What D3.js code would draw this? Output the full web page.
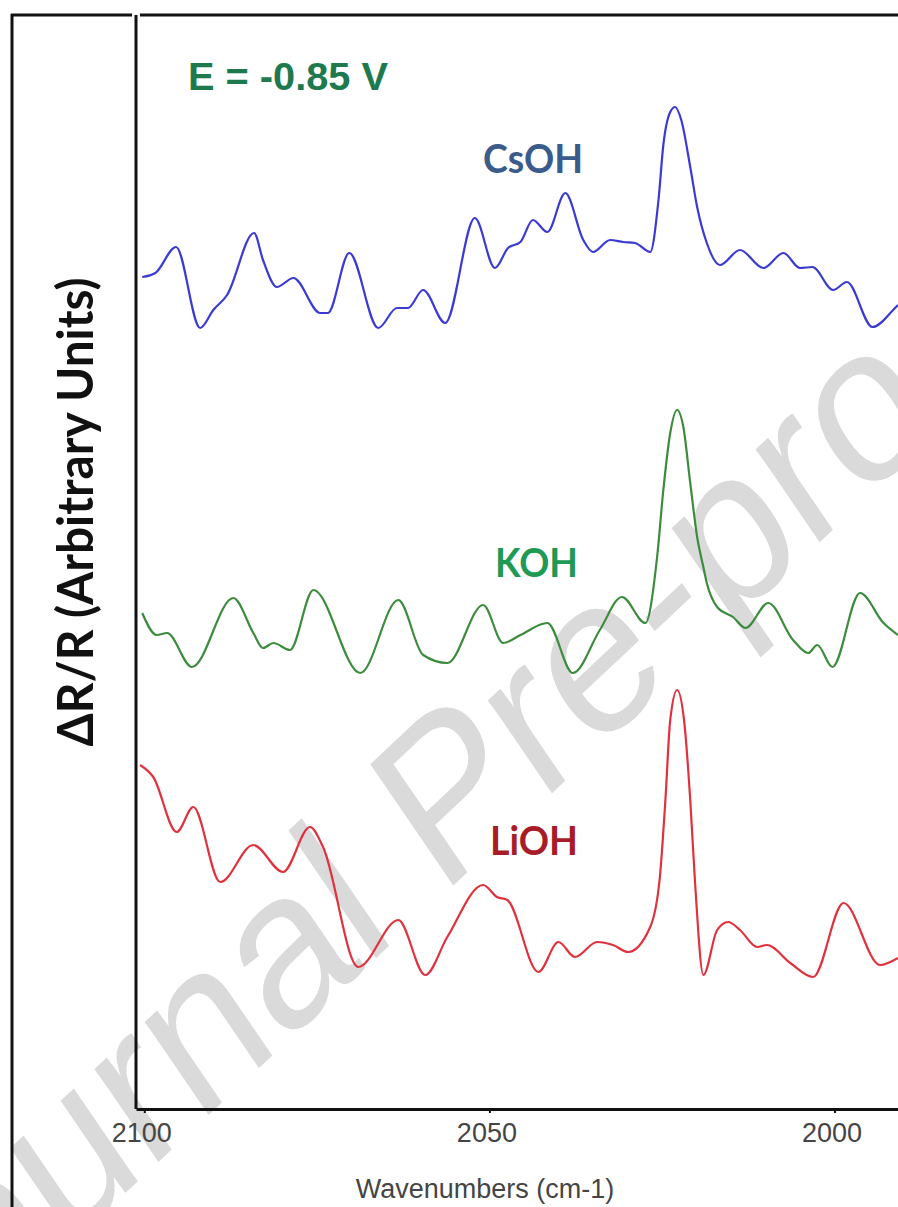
<!DOCTYPE html>
<html>
<head>
<meta charset="utf-8">
<script src="https://cdn.jsdelivr.net/npm/d3@7"></script>
<style>
  body { margin: 0; background: #ffffff; }
</style>
</head>
<body>
<div id="graph"></div>
<script>
// spectra: wavenumber (cm-1) and dR/R in arbitrary units (stacked)
var csohWave = [2100.3, 2098.4, 2095.4, 2091.9, 2090.0, 2088.0, 2084.1, 2082.8, 2080.8, 2078.4,
  2074.5, 2073.4, 2070.3, 2066.1, 2063.4, 2061.8, 2059.6, 2056.4, 2052.1, 2049.2,
  2047.3, 2045.5, 2043.7, 2041.6, 2039.0, 2036.4, 2035.0, 2032.5, 2030.6, 2028.9,
  2026.7, 2025.5, 2024.8, 2023.8, 2023.1, 2022.2, 2020.9, 2019.9, 2018.5, 2016.6,
  2013.7, 2010.3, 2007.4, 2005.0, 2003.2, 2000.2, 1998.2, 1994.5, 1991.5, 1990.8];
var csohValue = [8.32, 8.36, 8.62, 7.81, 7.99, 8.14, 8.76, 8.49, 8.22, 8.31,
  7.96, 7.96, 8.56, 7.81, 8.01, 8.01, 8.19, 7.86, 8.91, 8.41,
  8.61, 8.67, 8.89, 8.77, 9.16, 8.69, 8.57, 8.69, 8.67, 8.66,
  8.57, 9.09, 9.64, 9.97, 10.02, 9.89, 9.42, 9.02, 8.66, 8.44,
  8.59, 8.41, 8.56, 8.41, 8.42, 8.19, 8.27, 7.82, 7.99, 8.04];

var kohWave = [2100.3, 2098.2, 2096.7, 2093.1, 2087.1, 2084.2, 2082.8, 2081.3, 2078.9, 2075.5,
  2068.7, 2063.2, 2059.6, 2056.1, 2050.9, 2048.0, 2045.5, 2041.6, 2037.9, 2034.0,
  2030.8, 2027.4, 2025.7, 2024.8, 2023.8, 2022.8, 2021.9, 2020.9, 2019.9, 2019.0,
  2018.5, 2017.0, 2014.7, 2012.9, 2009.6, 2006.0, 2003.8, 2002.5, 2000.3, 1996.3,
  1992.9, 1990.8];
var kohValue = [4.96, 4.74, 4.76, 4.42, 5.11, 4.76, 4.61, 4.66, 4.59, 5.19,
  4.36, 5.09, 4.54, 4.46, 5.04, 4.66, 4.74, 4.86, 4.36, 4.79,
  5.12, 4.86, 5.52, 6.19, 6.76, 6.99, 6.82, 6.26, 5.72, 5.42,
  5.26, 5.02, 4.92, 4.81, 5.06, 4.69, 4.56, 4.64, 4.42, 5.16,
  4.86, 4.74];

var liohWave = [2100.6, 2098.7, 2095.3, 2092.9, 2089.0, 2084.2, 2079.9, 2076.0, 2074.1, 2069.0,
  2063.2, 2059.3, 2056.1, 2050.9, 2048.9, 2047.4, 2042.9, 2040.0, 2037.6, 2034.4, 2032.1,
  2029.9, 2026.7, 2025.3, 2024.5, 2023.8, 2022.8, 2021.8, 2020.9, 2020.2, 2019.0,
  2017.0, 2015.4, 2013.7, 2011.2, 2009.8, 2006.4, 2003.1, 1998.7, 1993.4, 1990.8];
var liohValue = [3.44, 3.32, 2.77, 3.02, 2.27, 2.64, 2.37, 2.82, 2.62, 1.42,
  1.89, 1.34, 1.72, 2.24, 2.12, 2.09, 1.37, 1.67, 1.52, 1.67, 1.64,
  1.57, 1.82, 2.32, 3.09, 3.89, 4.19, 3.89, 3.09, 2.26, 1.34,
  1.79, 1.87, 1.79, 1.62, 1.64, 1.46, 1.32, 2.06, 1.44, 1.51];

var seriesNames = ["CsOH", "KOH", "LiOH"];
var xTicks = [2100, 2050, 2000];
var potentialLabel = "E = -0.85 V";

// set the dimensions of the page and the plot box
var W = 898, H = 1207;
var margin = { top: 15, right: 0, bottom: 98, left: 136 };

var svg = d3
  .select("#graph")
  .append("svg")
  .attr("width", W)
  .attr("height", H);

// scales (wavenumber axis runs right to left)
var x = d3.scaleLinear().domain([2101.2, 1990.8]).range([margin.left, W - margin.right]);
var y = d3.scaleLinear().domain([0, 10.94]).range([H - margin.bottom, margin.top]);

// watermark, sits behind everything
svg
  .append("text")
  .attr("transform", "translate(487,854) scale(1,1.17) rotate(-38.7)")
  .attr("text-anchor", "middle")
  .attr("font-family", "Liberation Sans, Arial, sans-serif")
  .attr("font-size", 193)
  .attr("fill", "#dadada")
  .text("Journal Pre-proof");

// outer frame bits
svg.append("line")
  .attr("x1", 12).attr("y1", 14).attr("x2", 12).attr("y2", H)
  .attr("stroke", "#111").attr("stroke-width", 3);
svg.append("line")
  .attr("x1", 11).attr("y1", 15).attr("x2", 132).attr("y2", 15)
  .attr("stroke", "#111").attr("stroke-width", 3);
svg.append("line")
  .attr("x1", 140).attr("y1", 15).attr("x2", W).attr("y2", 15)
  .attr("stroke", "#111").attr("stroke-width", 3);

// left axis line
svg.append("line")
  .attr("x1", margin.left).attr("y1", margin.top)
  .attr("x2", margin.left).attr("y2", H - margin.bottom)
  .attr("stroke", "#111").attr("stroke-width", 3);

// lines
var series = [
  { name: "CsOH", wave: csohWave, value: csohValue, stroke: "#3b3bd4" },
  { name: "KOH", wave: kohWave, value: kohValue, stroke: "#3d8b3d" },
  { name: "LiOH", wave: liohWave, value: liohValue, stroke: "#e0323e" }
];

var valueline = d3
  .line()
  .curve(d3.curveMonotoneX)
  .x(d => x(d[0]))
  .y(d => y(d[1]));

series.forEach(function(s) {
  var pts = s.wave.map((w, i) => [w, s.value[i]]);
  svg
    .append("path")
    .datum(pts)
    .attr("d", valueline)
    .attr("fill", "none")
    .attr("stroke", s.stroke)
    .attr("stroke-width", 2.2)
    .attr("stroke-linejoin", "round");
});

// x axis
var xAxis = svg
  .append("g")
  .attr("transform", "translate(0," + (H - margin.bottom) + ")")
  .call(d3.axisBottom(x)
    .tickValues(xTicks)
    .tickFormat(d3.format("d"))
    .tickSizeInner(4)
    .tickSizeOuter(0)
    .tickPadding(10));

xAxis.select(".domain").attr("stroke", "#111").attr("stroke-width", 3);
xAxis.selectAll(".tick line").attr("stroke", "#111").attr("stroke-width", 2);
xAxis
  .selectAll(".tick text")
  .attr("font-family", "Liberation Sans, Arial, sans-serif")
  .attr("font-size", 27)
  .attr("fill", "#454545")
  .attr("dx", -3);

// text label for the x axis
svg
  .append("text")
  .attr("x", 485)
  .attr("y", 1198)
  .attr("text-anchor", "middle")
  .attr("font-family", "Liberation Sans, Arial, sans-serif")
  .attr("font-size", 27)
  .attr("fill", "#454545")
  .text("Wavenumbers (cm-1)");

// text label for the y axis
svg
  .append("text")
  .attr("transform", "translate(93,512) rotate(-90)")
  .attr("text-anchor", "middle")
  .attr("font-family", "Lato, Open Sans, sans-serif")
  .attr("font-weight", 700)
  .attr("font-size", 50)
  .attr("textLength", 469)
  .attr("lengthAdjust", "spacingAndGlyphs")
  .attr("fill", "#111")
  .text("\u0394R/R (Arbitrary Units)");

// potential label
svg
  .append("text")
  .attr("x", 188)
  .attr("y", 90)
  .attr("font-family", "Liberation Sans, Arial, sans-serif")
  .attr("font-weight", 700)
  .attr("font-size", 38)
  .attr("textLength", 200)
  .attr("lengthAdjust", "spacingAndGlyphs")
  .attr("fill", "#1e7a4e")
  .text(potentialLabel);

// series labels with white boxes over the watermark
var labelPos = [
  { x: 483, y: 173, w: 100, fill: "#3a5b8c" },
  { x: 495, y: 577, w: 83, fill: "#1f9a55" },
  { x: 490, y: 855, w: 88, fill: "#a71c26" }
];

seriesNames.forEach(function(name, i) {
  var p = labelPos[i];
  svg
    .append("rect")
    .attr("x", p.x - 8)
    .attr("y", p.y - 40)
    .attr("width", p.w + 16)
    .attr("height", 50)
    .attr("fill", "#ffffff");
  svg
    .append("text")
    .attr("x", p.x)
    .attr("y", p.y)
    .attr("font-family", "Lato, Open Sans, sans-serif")
    .attr("font-weight", 700)
    .attr("font-size", 41)
    .attr("textLength", p.w)
    .attr("lengthAdjust", "spacingAndGlyphs")
    .attr("fill", p.fill)
    .text(name);
});
</script>
</body>
</html>
